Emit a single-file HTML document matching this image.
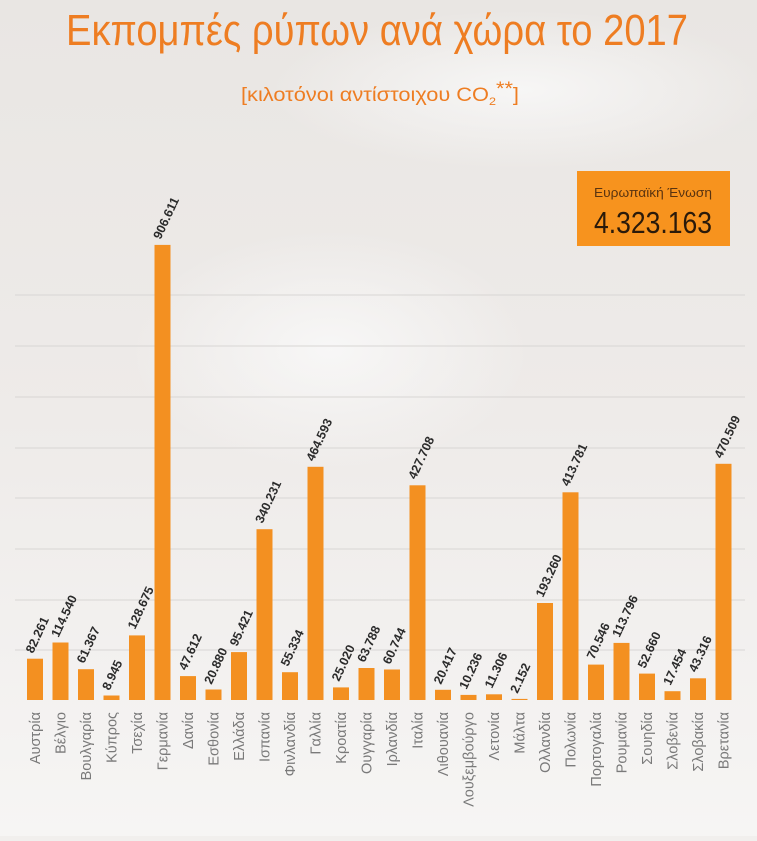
<!DOCTYPE html>
<html><head><meta charset="utf-8"><style>html,body{margin:0;padding:0;}body{width:757px;height:836px;overflow:hidden;background:#f1efed;}</style></head>
<body>
<svg width="757" height="836" xmlns="http://www.w3.org/2000/svg" font-family="Liberation Sans, DejaVu Sans, sans-serif">
<defs>
<linearGradient id="bg" x1="0" y1="0" x2="0" y2="1">
<stop offset="0" stop-color="#e9e6e3"/><stop offset="0.5" stop-color="#eeebe9"/><stop offset="1" stop-color="#f6f5f4"/>
</linearGradient>
<radialGradient id="cl" cx="0.5" cy="0.5" r="0.5"><stop offset="0" stop-color="#fafafa" stop-opacity="0.8"/><stop offset="1" stop-color="#fafafa" stop-opacity="0"/></radialGradient>
</defs>
<rect width="757" height="836" fill="url(#bg)"/>
<ellipse cx="330" cy="350" rx="200" ry="120" fill="url(#cl)"/>
<ellipse cx="520" cy="90" rx="250" ry="80" fill="url(#cl)"/>
<text x="377" y="45" text-anchor="middle" font-size="44" fill="#ee7d22" textLength="622" lengthAdjust="spacingAndGlyphs">Εκπομπές ρύπων ανά χώρα το 2017</text>
<text x="380" y="101" text-anchor="middle" font-size="19" fill="#ee7d22" textLength="278" lengthAdjust="spacingAndGlyphs">[κιλοτόνοι αντίστοιχου CO<tspan font-size="11" dy="4">2</tspan><tspan dy="-10">**</tspan><tspan dy="6">]</tspan></text>
<g stroke="#d8d6d4" stroke-width="1">
<line x1="15" x2="745" y1="295" y2="295"/><line x1="15" x2="745" y1="346" y2="346"/><line x1="15" x2="745" y1="397" y2="397"/><line x1="15" x2="745" y1="448" y2="448"/><line x1="15" x2="745" y1="498" y2="498"/><line x1="15" x2="745" y1="549" y2="549"/><line x1="15" x2="745" y1="600" y2="600"/><line x1="15" x2="745" y1="650" y2="650"/>
</g>
<rect x="577" y="171" width="153" height="75" fill="#f7931e"/>
<text x="653" y="197" text-anchor="middle" font-size="13" fill="#5a3410" textLength="118" lengthAdjust="spacingAndGlyphs">Ευρωπαϊκή Ένωση</text>
<text x="653" y="233" text-anchor="middle" font-size="31" fill="#2a1a0a" textLength="118" lengthAdjust="spacingAndGlyphs">4.323.163</text>
<g fill="#f39021">
<rect x="27" y="658.7" width="16" height="41.3"/>
<rect x="52.5" y="642.5" width="16" height="57.5"/>
<rect x="78" y="669.2" width="16" height="30.8"/>
<rect x="103.5" y="695.5" width="16" height="4.5"/>
<rect x="129" y="635.4" width="16" height="64.6"/>
<rect x="154.5" y="244.9" width="16" height="455.1"/>
<rect x="180" y="676.1" width="16" height="23.9"/>
<rect x="205.5" y="689.5" width="16" height="10.5"/>
<rect x="231" y="652.1" width="16" height="47.9"/>
<rect x="256.5" y="529.2" width="16" height="170.8"/>
<rect x="282" y="672.2" width="16" height="27.8"/>
<rect x="307.5" y="466.8" width="16" height="233.2"/>
<rect x="333" y="687.4" width="16" height="12.6"/>
<rect x="358.5" y="668" width="16" height="32"/>
<rect x="384" y="669.5" width="16" height="30.5"/>
<rect x="409.5" y="485.3" width="16" height="214.7"/>
<rect x="435" y="689.8" width="16" height="10.2"/>
<rect x="460.5" y="694.9" width="16" height="5.1"/>
<rect x="486" y="694.3" width="16" height="5.7"/>
<rect x="511.5" y="698.9" width="16" height="1.1"/>
<rect x="537" y="603" width="16" height="97"/>
<rect x="562.5" y="492.3" width="16" height="207.7"/>
<rect x="588" y="664.6" width="16" height="35.4"/>
<rect x="613.5" y="642.9" width="16" height="57.1"/>
<rect x="639" y="673.6" width="16" height="26.4"/>
<rect x="664.5" y="691.2" width="16" height="8.8"/>
<rect x="690" y="678.3" width="16" height="21.7"/>
<rect x="715.5" y="463.8" width="16" height="236.2"/>
</g>
<g font-size="12.5" font-weight="bold" fill="#2b2b2b">
<text transform="translate(33,654) rotate(-65)">82.261</text>
<text transform="translate(58.5,638) rotate(-65)">114.540</text>
<text transform="translate(84,664) rotate(-65)">61.367</text>
<text transform="translate(109.5,691) rotate(-65)">8.945</text>
<text transform="translate(135,630) rotate(-65)">128.675</text>
<text transform="translate(160.5,240) rotate(-65)">906.611</text>
<text transform="translate(186,671) rotate(-65)">47.612</text>
<text transform="translate(211.5,685) rotate(-65)">20.880</text>
<text transform="translate(237,647) rotate(-65)">95.421</text>
<text transform="translate(262.5,524) rotate(-65)">340.231</text>
<text transform="translate(288,667) rotate(-65)">55.334</text>
<text transform="translate(313.5,462) rotate(-65)">464.593</text>
<text transform="translate(339,682) rotate(-65)">25.020</text>
<text transform="translate(364.5,663) rotate(-65)">63.788</text>
<text transform="translate(390,665) rotate(-65)">60.744</text>
<text transform="translate(415.5,480) rotate(-65)">427.708</text>
<text transform="translate(441,685) rotate(-65)">20.417</text>
<text transform="translate(466.5,690) rotate(-65)">10.236</text>
<text transform="translate(492,689) rotate(-65)">11.306</text>
<text transform="translate(517.5,694) rotate(-65)">2.152</text>
<text transform="translate(543,598) rotate(-65)">193.260</text>
<text transform="translate(568.5,487) rotate(-65)">413.781</text>
<text transform="translate(594,660) rotate(-65)">70.546</text>
<text transform="translate(619.5,638) rotate(-65)">113.796</text>
<text transform="translate(645,669) rotate(-65)">52.660</text>
<text transform="translate(670.5,686) rotate(-65)">17.454</text>
<text transform="translate(696,673) rotate(-65)">43.316</text>
<text transform="translate(721.5,459) rotate(-65)">470.509</text>
</g>
<g font-size="14.5" fill="#7a7a7a" text-anchor="end">
<text transform="translate(40,712) rotate(-90)">Αυστρία</text>
<text transform="translate(65.5,712) rotate(-90)">Βέλγιο</text>
<text transform="translate(91,712) rotate(-90)">Βουλγαρία</text>
<text transform="translate(116.5,712) rotate(-90)">Κύπρος</text>
<text transform="translate(142,712) rotate(-90)">Τσεχία</text>
<text transform="translate(167.5,712) rotate(-90)">Γερμανία</text>
<text transform="translate(193,712) rotate(-90)">Δανία</text>
<text transform="translate(218.5,712) rotate(-90)">Εσθονία</text>
<text transform="translate(244,712) rotate(-90)">Ελλάδα</text>
<text transform="translate(269.5,712) rotate(-90)">Ισπανία</text>
<text transform="translate(295,712) rotate(-90)">Φινλανδία</text>
<text transform="translate(320.5,712) rotate(-90)">Γαλλία</text>
<text transform="translate(346,712) rotate(-90)">Κροατία</text>
<text transform="translate(371.5,712) rotate(-90)">Ουγγαρία</text>
<text transform="translate(397,712) rotate(-90)">Ιρλανδία</text>
<text transform="translate(422.5,712) rotate(-90)">Ιταλία</text>
<text transform="translate(448,712) rotate(-90)">Λιθουανία</text>
<text transform="translate(473.5,712) rotate(-90)">Λουξεμβούργο</text>
<text transform="translate(499,712) rotate(-90)">Λετονία</text>
<text transform="translate(524.5,712) rotate(-90)">Μάλτα</text>
<text transform="translate(550,712) rotate(-90)">Ολλανδία</text>
<text transform="translate(575.5,712) rotate(-90)">Πολωνία</text>
<text transform="translate(601,712) rotate(-90)">Πορτογαλία</text>
<text transform="translate(626.5,712) rotate(-90)">Ρουμανία</text>
<text transform="translate(652,712) rotate(-90)">Σουηδία</text>
<text transform="translate(677.5,712) rotate(-90)">Σλοβενία</text>
<text transform="translate(703,712) rotate(-90)">Σλοβακία</text>
<text transform="translate(728.5,712) rotate(-90)">Βρετανία</text>
</g>
</svg>
</body></html>
